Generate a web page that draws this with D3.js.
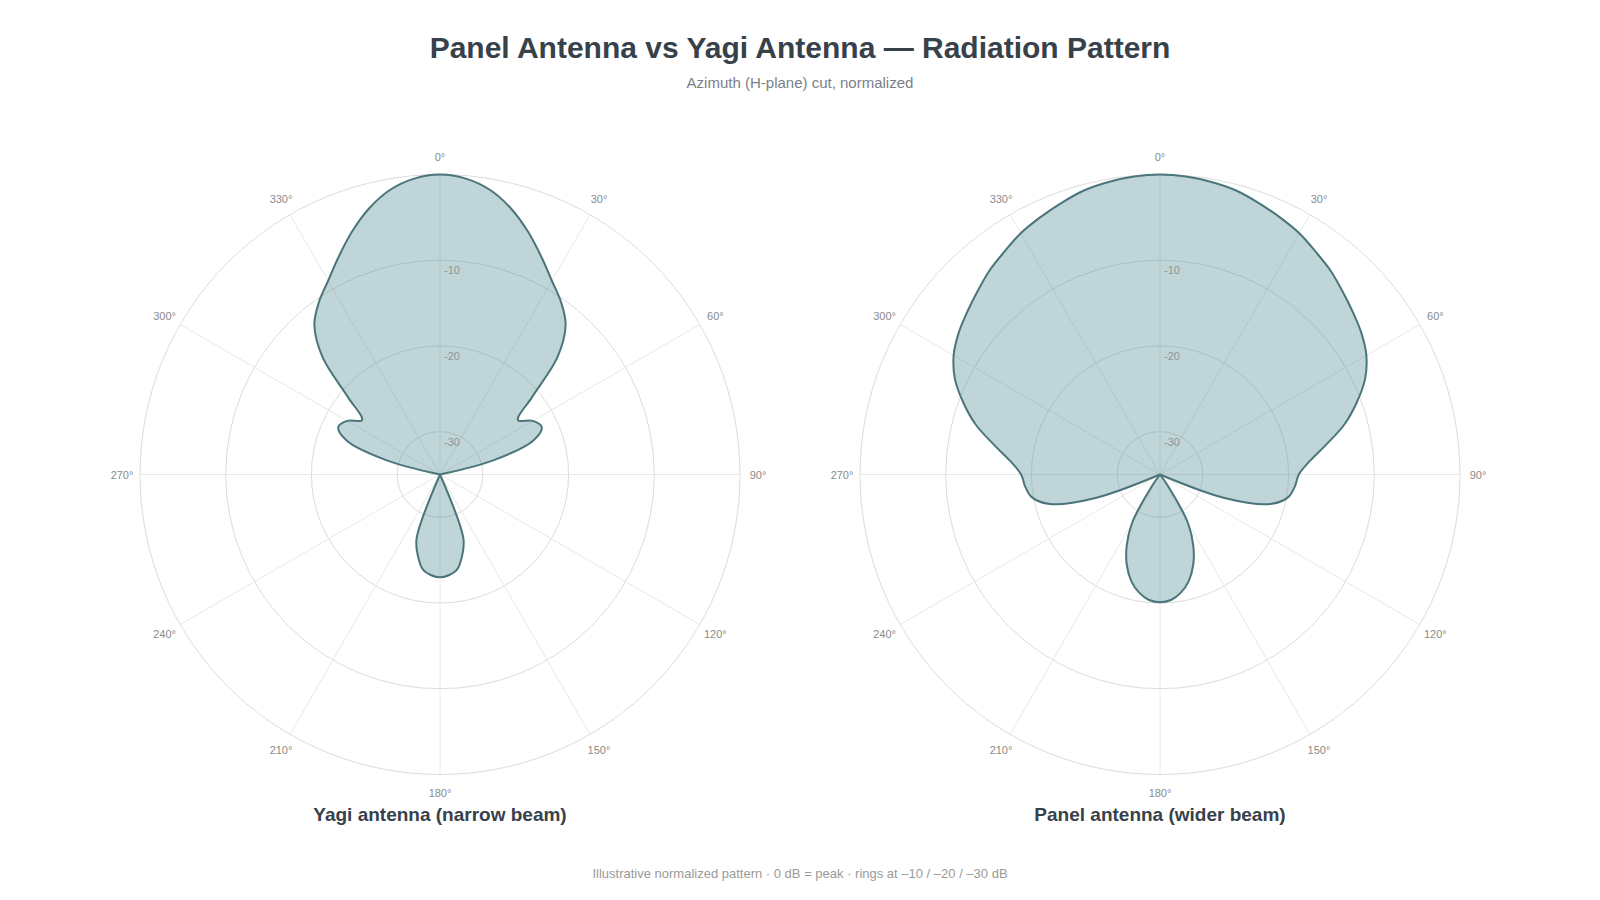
<!DOCTYPE html>
<html>
<head>
<meta charset="utf-8">
<script src="https://cdn.jsdelivr.net/npm/d3@7"></script>
<style>
  html, body { margin: 0; padding: 0; background: #fff; }
  svg text { font-family: "Liberation Sans", Arial, Helvetica, sans-serif; }
</style>
</head>
<body>
<svg id="chart" width="1600" height="900"></svg>
<script>
// Sample angles (degrees, clockwise from north)
const angles = [
  0, 5, 10, 15, 20, 25, 30, 35, 40, 45, 50, 55, 60, 65, 70, 75, 80, 85,
  90, 95, 100, 105, 110, 115, 120, 125, 130, 135, 140, 145, 150, 155, 160, 165, 170, 175,
  180, 185, 190, 195, 200, 205, 210, 215, 220, 225, 230, 235, 240, 245, 250, 255, 260, 265,
  270, 275, 280, 285, 290, 295, 300, 305, 310, 315, 320, 325, 330, 335, 340, 345, 350, 355
];

// Normalized gain (dB)
const yagiGain = [
  0, -0.35, -1.3, -2.9, -4.9, -7.0, -8.9, -10.4, -12.2, -15.6, -21.0, -23.9, -22.5, -21.9, -23.4, -28.5, -36, -40,
  -40, -40, -40, -40, -40, -40, -40, -40, -40, -40, -40, -40, -40, -36, -27.0, -25.1, -23.7, -23.2,
  -23.0, -23.2, -23.7, -25.1, -27.0, -36, -40, -40, -40, -40, -40, -40, -40, -40, -40, -40, -40, -40,
  -40, -40, -36, -28.5, -23.4, -21.9, -22.5, -23.9, -21.0, -15.6, -12.2, -10.4, -8.9, -7.0, -4.9, -2.9, -1.3, -0.35
];

const panelGain = [
  0, -0.1, -0.35, -0.7, -1.3, -1.9, -2.5, -3.3, -4.0, -4.85, -5.6, -6.3, -7.2, -8.6, -10.6, -12.8, -15.4, -17.5,
  -18.8, -19.2, -19.8, -21.7, -27.0, -36, -40, -40, -40, -40, -40, -33.5, -28.5, -25.8, -23.7, -22.1, -21.0, -20.3,
  -20.1, -20.3, -21.0, -22.1, -23.7, -25.8, -28.5, -33.5, -40, -40, -40, -40, -40, -36, -27.0, -21.7, -19.8, -19.2,
  -18.8, -17.5, -15.4, -12.8, -10.6, -8.6, -7.2, -6.3, -5.6, -4.85, -4.0, -3.3, -2.5, -1.9, -1.3, -0.7, -0.35, -0.1
];

const ringLevels = [-30, -20, -10];
const spokeAngles = [0, 30, 60, 90, 120, 150, 180, 210, 240, 270, 300, 330];

const panels = [
  { title: "Yagi antenna (narrow beam)", gain: yagiGain, cx: 440 },
  { title: "Panel antenna (wider beam)", gain: panelGain, cx: 1160 }
];

const svg = d3.select("#chart");
const cy = 474.5;
const outerR = 300;

// Radial scale: -35 dB at center, 0 dB on outer ring
const rScale = d3.scaleLinear().domain([-35, 0]).range([0, outerR]).clamp(true);

// Titles
svg.append("text")
  .attr("x", 800).attr("y", 58)
  .attr("text-anchor", "middle")
  .style("font-size", "30px").style("font-weight", "bold")
  .attr("fill", "#37414a")
  .text("Panel Antenna vs Yagi Antenna \u2014 Radiation Pattern");

svg.append("text")
  .attr("x", 800).attr("y", 88)
  .attr("text-anchor", "middle")
  .style("font-size", "15px")
  .attr("fill", "#7b8087")
  .text("Azimuth (H-plane) cut, normalized");

panels.forEach(p => {
  const g = svg.append("g").attr("transform", `translate(${p.cx},${cy})`);

  // Rings
  g.selectAll(".ring")
    .data(ringLevels.concat([0]))
    .enter()
    .append("circle")
    .attr("class", "ring")
    .attr("r", d => rScale(d))
    .attr("fill", "none")
    .attr("stroke", "#dcdcdc")
    .attr("stroke-width", 1);

  // Spokes
  g.selectAll(".spoke")
    .data(spokeAngles)
    .enter()
    .append("line")
    .attr("class", "spoke")
    .attr("x1", 0).attr("y1", 0)
    .attr("x2", d => outerR * Math.sin(d * Math.PI / 180))
    .attr("y2", d => -outerR * Math.cos(d * Math.PI / 180))
    .attr("stroke", "#e8e8e8")
    .attr("stroke-width", 1);

  // Pattern
  const pts = angles.map((a, i) => ({ angle: a, db: p.gain[i] }));
  const line = d3.lineRadial()
    .angle(d => d.angle * Math.PI / 180)
    .radius(d => rScale(d.db))
    .curve(d3.curveCatmullRomClosed.alpha(0.5));

  g.append("path")
    .datum(pts)
    .attr("d", line)
    .attr("fill", "#4f8a93")
    .attr("fill-opacity", 0.36)
    .attr("stroke", "#4a757b")
    .attr("stroke-width", 2)
    .attr("stroke-linejoin", "round");

  // Ring labels
  g.selectAll(".ring-label")
    .data(ringLevels)
    .enter()
    .append("text")
    .attr("class", "ring-label")
    .attr("x", 4)
    .attr("y", d => -rScale(d) + 14)
    .style("font-size", "11px")
    .attr("fill", "#8c9598")
    .text(d => d);

  // Angle labels
  g.selectAll(".angle-label")
    .data(spokeAngles)
    .enter()
    .append("text")
    .attr("class", "angle-label")
    .attr("x", d => (outerR + 18) * Math.sin(d * Math.PI / 180))
    .attr("y", d => -(outerR + 18) * Math.cos(d * Math.PI / 180) + 4)
    .attr("text-anchor", "middle")
    .style("font-size", "11px")
    .attr("fill", "#8a8a8a")
    .text(d => d + "\u00b0");

  // Subplot title
  svg.append("text")
    .attr("x", p.cx).attr("y", 821)
    .attr("text-anchor", "middle")
    .style("font-size", "19px").style("font-weight", "bold")
    .attr("fill", "#37414a")
    .text(p.title);
});

// Footer note
svg.append("text")
  .attr("x", 800).attr("y", 877.5)
  .attr("text-anchor", "middle")
  .style("font-size", "13px")
  .attr("fill", "#9a9a9a")
  .text("Illustrative normalized pattern \u00b7 0 dB = peak \u00b7 rings at \u201310 / \u201320 / \u201330 dB");
</script>
</body>
</html>
